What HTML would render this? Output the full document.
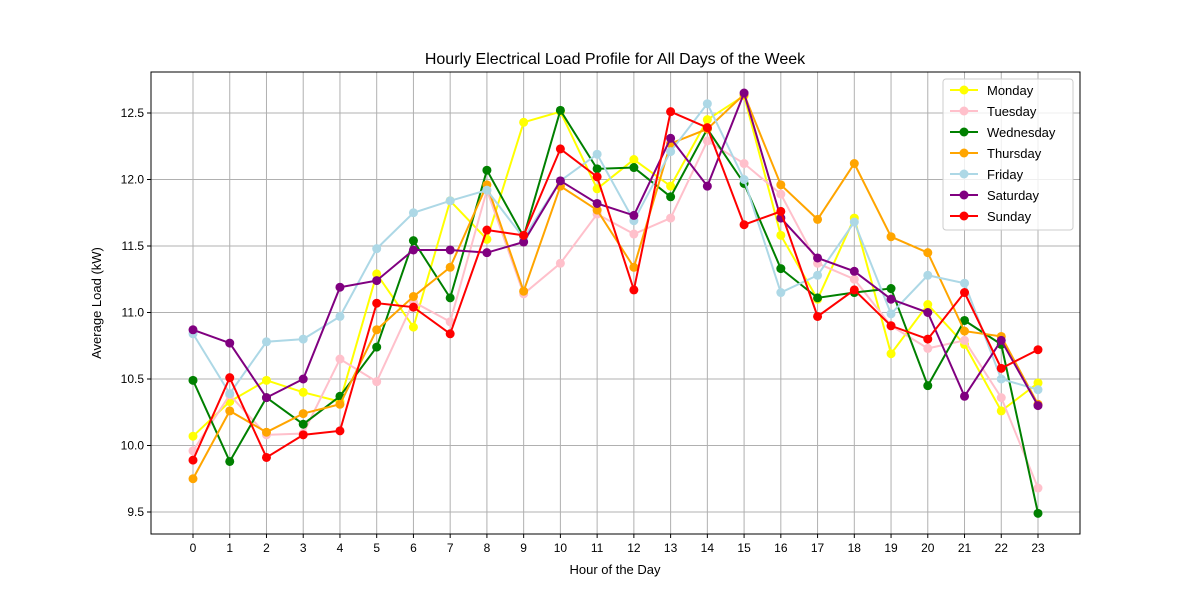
<!DOCTYPE html>
<html><head><meta charset="utf-8"><style>
body{margin:0;background:#fff;}
svg{display:block;font-family:"Liberation Sans","DejaVu Sans",sans-serif;}
</style></head><body>
<svg id="chart" width="1200" height="600" xmlns="http://www.w3.org/2000/svg">
<rect width="1200" height="600" fill="#fff"/>
<text x="615" y="64" text-anchor="middle" font-size="16">Hourly Electrical Load Profile for All Days of the Week</text>
<text x="615" y="574" text-anchor="middle" font-size="13">Hour of the Day</text>
<text x="101" y="303" text-anchor="middle" font-size="13" transform="rotate(-90 101 303)">Average Load (kW)</text>
<g id="grid"></g><g id="series"></g><g id="axes"></g><g id="legend"></g>
</svg>
<script>
const hours=[0,1,2,3,4,5,6,7,8,9,10,11,12,13,14,15,16,17,18,19,20,21,22,23];
const yTicks=[9.5,10.0,10.5,11.0,11.5,12.0,12.5];
const dayNames=["Monday","Tuesday","Wednesday","Thursday","Friday","Saturday","Sunday"];
const dayColors=["yellow","pink","green","orange","lightblue","purple","red"];
const monday=[10.07,10.33,10.49,10.40,10.33,11.29,10.89,11.84,11.55,12.43,12.51,11.93,12.15,11.95,12.45,12.63,11.58,11.10,11.71,10.69,11.06,10.76,10.26,10.47];
const tuesday=[9.96,10.38,10.08,10.09,10.65,10.48,11.08,10.93,11.92,11.14,11.37,11.74,11.59,11.71,12.29,12.12,11.89,11.37,11.25,10.90,10.73,10.79,10.36,9.68];
const wednesday=[10.49,9.88,10.36,10.16,10.37,10.74,11.54,11.11,12.07,11.57,12.52,12.08,12.09,11.87,12.38,11.97,11.33,11.11,11.15,11.18,10.45,10.94,10.76,9.49];
const thursday=[9.75,10.26,10.10,10.24,10.31,10.87,11.12,11.34,11.96,11.16,11.95,11.77,11.34,12.27,12.38,12.64,11.96,11.70,12.12,11.57,11.45,10.86,10.82,10.31];
const friday=[10.84,10.39,10.78,10.80,10.97,11.48,11.75,11.84,11.92,11.56,11.99,12.19,11.69,12.21,12.57,12.00,11.15,11.28,11.68,10.99,11.28,11.22,10.50,10.42];
const saturday=[10.87,10.77,10.36,10.50,11.19,11.24,11.47,11.47,11.45,11.53,11.99,11.82,11.73,12.31,11.95,12.65,11.71,11.41,11.31,11.10,11.00,10.37,10.79,10.30];
const sunday=[9.89,10.51,9.91,10.08,10.11,11.07,11.04,10.84,11.62,11.58,12.23,12.02,11.17,12.51,12.39,11.66,11.76,10.97,11.17,10.90,10.80,11.15,10.58,10.72];
const allSeries=[monday,tuesday,wednesday,thursday,friday,saturday,sunday];
const NS="http://www.w3.org/2000/svg";
const L=151,R=1080,T=72,B=534;
function xs(h){return 193+h*(1038-193)/23;}
function ys(v){return 512-(v-9.5)*133;}
function mk(tag,attrs,parent){const e=document.createElementNS(NS,tag);for(const k in attrs)e.setAttribute(k,attrs[k]);parent.appendChild(e);return e;}
const grid=document.getElementById('grid'),axes=document.getElementById('axes'),ser=document.getElementById('series'),leg=document.getElementById('legend');
hours.forEach(h=>{
  const g=mk('line',{x1:xs(h),x2:xs(h),y1:T,y2:B,stroke:'#b0b0b0','stroke-width':1},grid);
  
  
  mk('line',{x1:xs(h),x2:xs(h),y1:B,y2:B+4,stroke:'#000'},axes);
  const t=mk('text',{x:xs(h),y:B+18,'text-anchor':'middle','font-size':12},axes);
  t.textContent=h;
  
  
});
yTicks.forEach(v=>{
  const g=mk('line',{x1:L,x2:R,y1:ys(v),y2:ys(v),stroke:'#b0b0b0','stroke-width':1},grid);
  
  
  mk('line',{x1:L-4,x2:L,y1:ys(v),y2:ys(v),stroke:'#000'},axes);
  const t=mk('text',{x:L-7,y:ys(v)+4,'text-anchor':'end','font-size':12},axes);
  t.textContent=v.toFixed(1);
  
  
});
const frame=mk('rect',{x:L,y:T,width:R-L,height:B-T,fill:'none',stroke:'#000','stroke-width':1},axes);


allSeries.forEach((d,i)=>{
  const g=mk('g',{},ser);
  
  
  const p=mk('polyline',{points:d.map((v,j)=>xs(hours[j])+','+ys(v)).join(' '),fill:'none',stroke:dayColors[i],'stroke-width':2},g);
  
  
  d.forEach((v,j)=>{
    const c=mk('circle',{cx:xs(hours[j]),cy:ys(v),r:4.5,fill:dayColors[i]},g);
    
    
  });
});
const box=mk('rect',{x:943,y:79,width:130,height:151,rx:3,fill:'#fff','fill-opacity':0.8,stroke:'#ccc'},leg);


dayNames.forEach((n,i)=>{
  const y=90+i*21;
  const g=mk('g',{},leg);
  
  
  mk('line',{x1:950,x2:978,y1:y,y2:y,stroke:dayColors[i],'stroke-width':2},g);
  mk('circle',{cx:964,cy:y,r:4.5,fill:dayColors[i]},g);
  const t=mk('text',{x:987,y:y+5,'font-size':13},g);
  t.textContent=n;
});
</script>
</body></html>
